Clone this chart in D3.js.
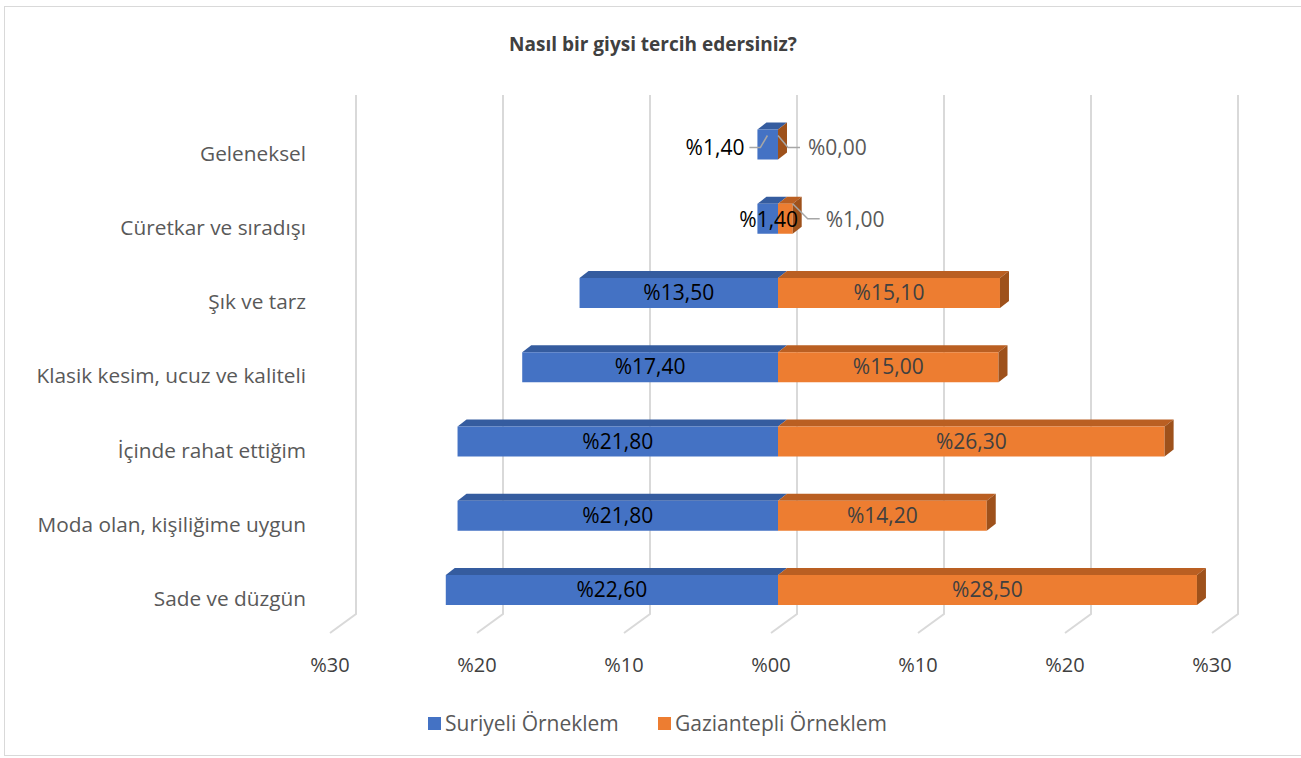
<!DOCTYPE html>
<html>
<head>
<meta charset="utf-8">
<script src="https://cdn.jsdelivr.net/npm/d3@7"></script>
<style>
  body { margin: 0; background: #fff; }
  text { font-family: "Open Sans", sans-serif; }
</style>
</head>
<body>
<div id="chart"></div>
<script>
var svgWidth = 1301;
var svgHeight = 758;

// data
var categories = ["Geleneksel", "Cüretkar ve sıradışı", "Şık ve tarz",
  "Klasik kesim, ucuz ve kaliteli", "İçinde rahat ettiğim",
  "Moda olan, kişiliğime uygun", "Sade ve düzgün"];
var suriyeli = [1.4, 1.4, 13.5, 17.4, 21.8, 21.8, 22.6];
var gaziantepli = [0.0, 1.0, 15.1, 15.0, 26.3, 14.2, 28.5];
var tickValues = [-30, -20, -10, 0, 10, 20, 30];
var seriesNames = ["Suriyeli Örneklem", "Gaziantepli Örneklem"];

var fmt = function(v) { return "%" + d3.format(".2f")(v).replace(".", ","); };
var fmtTick = function(v) { return "%" + d3.format("02d")(Math.abs(v)); };

var blue = { front: "#4472C4", top: "#355C9F" };
var orange = { front: "#ED7D31", top: "#BA5F22", side: "#9E511B" };

// 3D offsets
var barDx = 9, barDy = 7;        // bar depth
var wallDx = 19;                 // back wall shift
var wallTop = 95, wallBottom = 614;
var floorDx = -26, floorDy = 19; // floor front edge
var barH = 30;

var svg = d3.select("#chart")
  .append("svg")
  .attr("width", svgWidth)
  .attr("height", svgHeight);

// chart border
svg.append("rect")
  .attr("x", 4.5).attr("y", 6.5)
  .attr("width", 1310).attr("height", 749)
  .attr("fill", "#fff")
  .attr("stroke", "#d9d9d9");

// title
svg.append("text")
  .attr("x", 653).attr("y", 51)
  .attr("text-anchor", "middle")
  .attr("font-size", 19)
  .attr("font-weight", "bold")
  .attr("fill", "#404040")
  .text("Nasıl bir giysi tercih edersiniz?");

var x = d3.scaleLinear().domain([-30, 30]).range([337, 1219]);
var y = d3.scalePoint().domain(categories).range([144.5, 590]);

// back wall gridlines + floor lines
var grid = svg.append("g");
tickValues.forEach(function(t) {
  var gx = x(t) + wallDx;
  grid.append("polyline")
    .attr("points", [[gx, wallTop], [gx, wallBottom], [gx + floorDx, wallBottom + floorDy]].join(" "))
    .attr("fill", "none")
    .attr("stroke", "#d9d9d9")
    .attr("stroke-width", 2);
});

// x axis tick labels
svg.append("g").selectAll("text")
  .data(tickValues)
  .enter()
  .append("text")
  .attr("x", d => x(d) + wallDx + floorDx)
  .attr("y", 672)
  .attr("text-anchor", "middle")
  .attr("font-size", 20)
  .attr("fill", "#404040")
  .text(fmtTick);

// category labels
svg.append("g").selectAll("text")
  .data(categories)
  .enter()
  .append("text")
  .attr("x", 306)
  .attr("y", d => y(d) + 16)
  .attr("text-anchor", "end")
  .attr("font-size", 20.8)
  .attr("fill", "#595959")
  .text(d => d);

var rows = categories.map(function(c, i) {
  return { cat: c, s: suriyeli[i], g: gaziantepli[i] };
});

var bars = svg.append("g");

rows.forEach(function(d) {
  var top = y(d.cat) - barH / 2, bot = top + barH;
  var x0 = x(0), xs = x(-d.s), xg = x(d.g);

  // blue (left) bar
  bars.append("polygon")
    .attr("points", [[xs, top], [x0, top], [x0 + barDx, top - barDy], [xs + barDx, top - barDy]].join(" "))
    .attr("fill", blue.top);
  bars.append("rect")
    .attr("x", xs).attr("y", top)
    .attr("width", x0 - xs).attr("height", barH)
    .attr("fill", blue.front);

  // orange (right) bar
  if (d.g > 0) {
    bars.append("polygon")
      .attr("points", [[x0, top], [xg, top], [xg + barDx, top - barDy], [x0 + barDx, top - barDy]].join(" "))
      .attr("fill", orange.top);
    bars.append("rect")
      .attr("x", x0).attr("y", top)
      .attr("width", xg - x0).attr("height", barH)
      .attr("fill", orange.front);
  }
  bars.append("polygon")
    .attr("points", [[xg, top], [xg + barDx, top - barDy], [xg + barDx, bot - barDy], [xg, bot]].join(" "))
    .attr("fill", orange.side);
});

// data labels
var labels = svg.append("g").attr("font-size", 21);
var leader = function(pts) {
  labels.append("polyline")
    .attr("points", pts.join(" "))
    .attr("fill", "none")
    .attr("stroke", "#a6a6a6")
    .attr("stroke-width", 1.5);
};

rows.forEach(function(d, i) {
  var cy = y(d.cat);
  var x0 = x(0), xs = x(-d.s), xg = x(d.g);
  if (d.s >= 5) {
    labels.append("text")
      .attr("x", (xs + x0) / 2).attr("y", cy + 7)
      .attr("text-anchor", "middle").attr("fill", "#000")
      .text(fmt(d.s));
  }
  if (d.g >= 5) {
    labels.append("text")
      .attr("x", (x0 + xg) / 2).attr("y", cy + 7)
      .attr("text-anchor", "middle").attr("fill", "#404040")
      .text(fmt(d.g));
  }
});

// small-value labels with leader lines
(function() {
  var d = rows[0], cy = y(d.cat) + 3, x0 = x(0), xs = x(-d.s);
  leader([[xs - 8, cy], [xs + 3, cy], [xs + 10, cy - 12]]);
  labels.append("text").attr("x", xs - 13).attr("y", cy + 7)
    .attr("text-anchor", "end").attr("fill", "#000").text(fmt(d.s));
  leader([[x0, cy - 12], [x0 + 10, cy], [x0 + 22, cy]]);
  labels.append("text").attr("x", x0 + 30).attr("y", cy + 7)
    .attr("fill", "#595959").text(fmt(d.g));

  var e = rows[1], cy2 = y(e.cat), xg = x(e.g);
  labels.append("text").attr("x", (x(-e.s) + x0) / 2 + 1).attr("y", cy2 + 8)
    .attr("text-anchor", "middle").attr("fill", "#000").text(fmt(e.s));
  leader([[xg, cy2 - 15], [xg + 15, cy2], [xg + 27, cy2]]);
  labels.append("text").attr("x", xg + 33).attr("y", cy2 + 8)
    .attr("fill", "#595959").text(fmt(e.g));
})();

// legend
var legend = svg.append("g");
var legendX = [428, 658];
seriesNames.forEach(function(n, i) {
  legend.append("rect")
    .attr("x", legendX[i]).attr("y", 717)
    .attr("width", 13).attr("height", 13)
    .attr("fill", i === 0 ? blue.front : orange.front);
  legend.append("text")
    .attr("x", legendX[i] + 17).attr("y", 731)
    .attr("font-size", 21)
    .attr("fill", "#595959")
    .text(n);
});
</script>
</body>
</html>
